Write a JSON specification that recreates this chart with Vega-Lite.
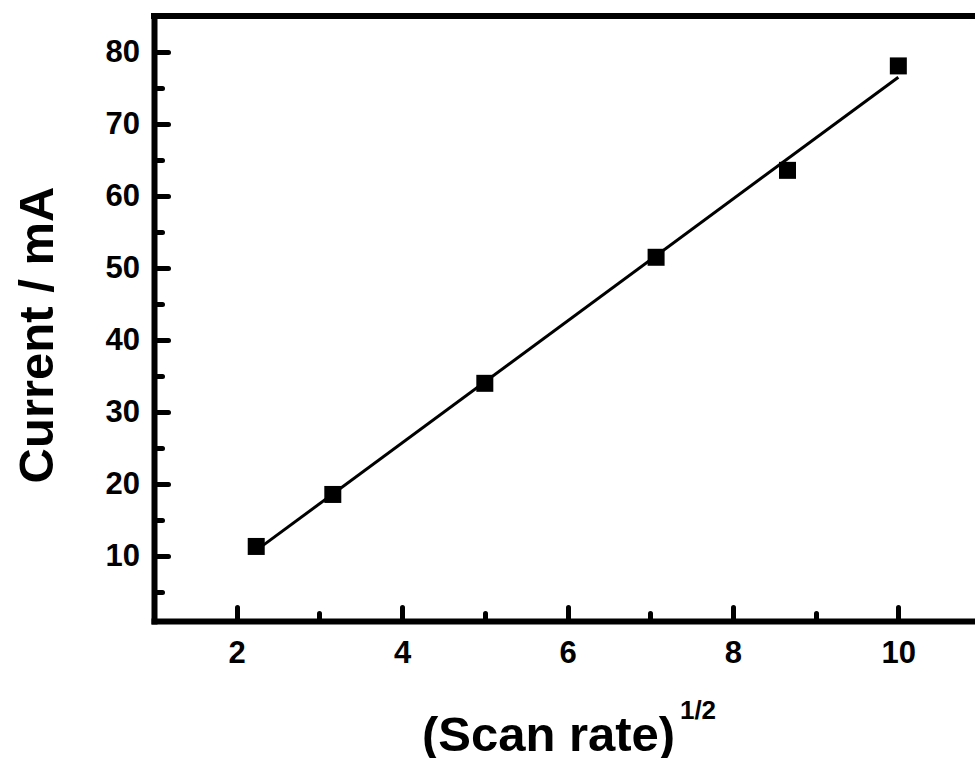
{
  "$schema": "https://vega.github.io/schema/vega-lite/v6.json",
  "width": 821,
  "height": 605,
  "autosize": {"type": "none"},
  "padding": {"left": 154, "top": 16, "right": 0, "bottom": 137},
  "background": "white",
  "config": {
    "view": {"stroke": null},
    "font": "Liberation Sans",
    "axis": {
      "labelFont": "Liberation Sans",
      "labelFontWeight": "bold",
      "labelFontSize": 31,
      "labelColor": "black",
      "titleFont": "Liberation Sans",
      "titleFontWeight": "bold",
      "titleColor": "black",
      "tickColor": "black",
      "domainColor": "black",
      "grid": false,
      "tickWidth": 5,
      "tickCap": "round",
      "domainWidth": 6,
      "domainCap": "square",
      "labelFlush": false,
      "labelOverlap": false
    }
  },
  "datasets": {
    "points": [
      {"x": 2.236, "y": 11.35},
      {"x": 3.162, "y": 18.57},
      {"x": 5.0, "y": 34.0},
      {"x": 7.071, "y": 51.5},
      {"x": 8.66, "y": 63.57},
      {"x": 10.0, "y": 78.07}
    ],
    "fit": [
      {"x": 2.236, "y": 10.8},
      {"x": 10.0, "y": 76.5}
    ],
    "frame": [
      {"top": 85}
    ]
  },
  "layer": [
    {
      "data": {"name": "fit"},
      "mark": {"type": "line", "color": "black", "strokeWidth": 3},
      "encoding": {
        "x": {
          "field": "x",
          "type": "quantitative",
          "scale": {"domain": [1, 10.927], "nice": false, "zero": false},
          "axis": {
            "orient": "bottom",
            "values": [3, 5, 7, 9],
            "tickSize": -8,
            "domain": false,
            "labels": false,
            "title": "1/2",
            "titleFontSize": 26,
            "titleX": 543.5,
            "titleY": 97,
            "titleAngle": 0,
            "titleAlign": "center",
            "titleBaseline": "alphabetic"
          }
        },
        "y": {
          "field": "y",
          "type": "quantitative",
          "scale": {"domain": [1, 85], "nice": false, "zero": false},
          "axis": {
            "orient": "left",
            "values": [5, 15, 25, 35, 45, 55, 65, 75],
            "tickSize": -8,
            "domain": false,
            "labels": false,
            "title": null
          }
        }
      }
    },
    {
      "data": {"name": "points"},
      "mark": {"type": "square", "size": 289, "color": "black", "opacity": 1, "filled": true},
      "encoding": {
        "x": {
          "field": "x",
          "type": "quantitative",
          "axis": {
            "orient": "bottom",
            "values": [2, 4, 6, 8, 10],
            "tickSize": -14,
            "labelPadding": 55,
            "labelBaseline": "alphabetic",
            "labelAlign": "center",
            "title": "(Scan rate)",
            "titleFontSize": 49,
            "titleX": 394,
            "titleY": 129,
            "titleAngle": 0,
            "titleAlign": "center",
            "titleBaseline": "alphabetic"
          }
        },
        "y": {
          "field": "y",
          "type": "quantitative",
          "axis": {
            "orient": "left",
            "values": [10, 20, 30, 40, 50, 60, 70, 80],
            "tickSize": -14,
            "labelPadding": 28.5,
            "labelAlign": "right",
            "labelBaseline": "middle",
            "title": "Current / mA",
            "titleFontSize": 49,
            "titleX": -102,
            "titleY": 318.5,
            "titleAngle": 270,
            "titleAlign": "center",
            "titleBaseline": "alphabetic"
          }
        }
      }
    },
    {
      "data": {"name": "frame"},
      "mark": {"type": "rule", "color": "black", "strokeWidth": 6, "strokeCap": "square"},
      "encoding": {
        "y": {"field": "top", "type": "quantitative", "axis": null}
      }
    }
  ],
  "resolve": {"axis": {"x": "independent", "y": "independent"}}
}
